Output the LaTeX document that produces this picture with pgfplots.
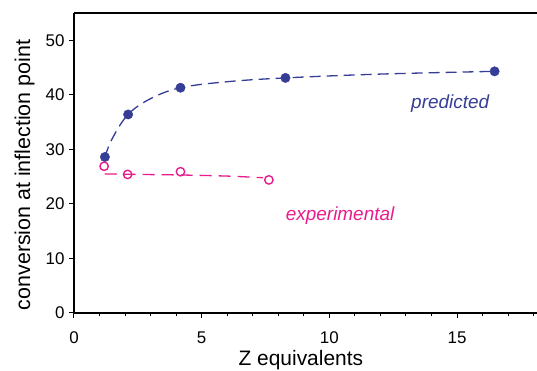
\documentclass[border=0pt]{standalone}
\usepackage{fontspec}
\setmainfont{Liberation Sans}
\usepackage{pgfplots}
\pgfplotsset{compat=1.18}
\definecolor{predblue}{RGB}{53,61,150}
\definecolor{exppink}{RGB}{232,28,140}
\begin{document}
\begin{tikzpicture}
\begin{axis}[
  scale only axis,
  width=463bp, height=300bp,
  xmin=0, xmax=18.13, ymin=0, ymax=55,
  axis x line*=bottom, axis y line*=left,
  axis line style={line width=1.3bp, black},
  xtick={0,5,10,15}, ytick={0,10,20,30,40,50},
  minor xtick={1,2,3,4,6,7,8,9,11,12,13,14,16,17,18},
  tick align=outside,
  major tick length=5bp, minor tick length=3.5bp,
  tick style={line width=1bp, black},
  xtick pos=bottom, ytick pos=left,
  /pgf/number format/assume math mode=true,
  tick label style={font=\fontsize{17}{20}\selectfont},
  xticklabel style={yshift=-10bp},
  yticklabel style={xshift=-1bp},
  xlabel={Z equivalents},
  ylabel={conversion at inflection point},
  every axis x label/.style={at={([yshift=-47bp]axis description cs:0.49,0)}, anchor=center, font=\fontsize{21}{24}\selectfont},
  every axis y label/.style={at={([xshift=-49.5bp]axis description cs:0,0.46)}, anchor=center, rotate=90, font=\fontsize{21.5}{24}\selectfont},
  clip=false,
]
% predicted fit curve
\addplot[predblue, line width=1.3bp, dash pattern=on 11bp off 6bp, smooth, tension=0.6] coordinates {
  (1.21,28.6) (1.5,32.0) (2.12,36.4) (3.0,39.3) (4.17,41.3) (6.0,42.4) (8.28,43.1) (12.0,43.8) (16.47,44.3)
};
% experimental fit curve
\addplot[exppink, line width=1.3bp, dash pattern=on 12bp off 7bp, smooth] coordinates {
  (1.2,25.5) (2.5,25.4) (4.2,25.3) (6.0,25.1) (7.4,24.8)
};
% predicted points
\addplot[only marks, mark=*, mark size=4.7bp, predblue, mark options={fill=predblue}] coordinates {
  (1.21,28.6) (2.12,36.4) (4.17,41.3) (8.28,43.1) (16.47,44.3)
};
% experimental points
\addplot[only marks, mark=o, mark size=4.2bp, exppink, line width=1.4bp, mark options={fill=white}] coordinates {
  (1.18,26.9) (2.1,25.4) (4.17,25.9) (7.63,24.4)
};
\node[predblue, font=\itshape\fontsize{19}{22}\selectfont] at (axis cs:14.73,38.3) {predicted};
\node[exppink, font=\itshape\fontsize{19}{22}\selectfont] at (axis cs:10.42,17.9) {experimental};
\draw[line width=1.3bp, black] (rel axis cs:0,1) -- (rel axis cs:1,1);
\coordinate (sw) at (rel axis cs:0,0);
\coordinate (ne) at (rel axis cs:1,1);
\end{axis}
\pgfresetboundingbox
\path ([shift={(-74bp,-58bp)}]sw) rectangle ([shift={(0bp,13bp)}]ne);
\end{tikzpicture}
\end{document}
